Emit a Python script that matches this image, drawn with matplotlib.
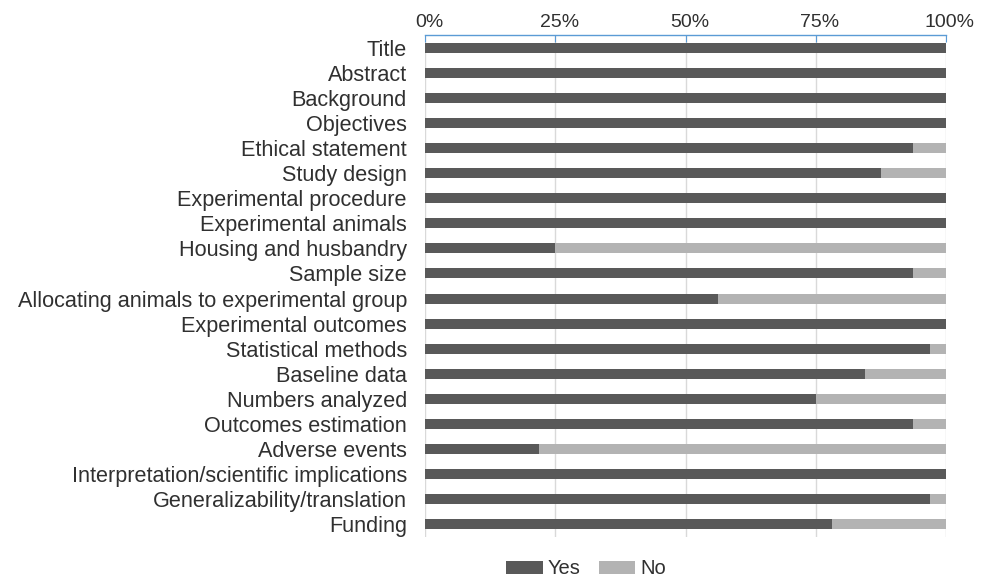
import matplotlib.pyplot as plt
import matplotlib.transforms as mtrans
import numpy as np

plt.rcParams['font.family'] = ['Liberation Sans', 'DejaVu Sans']

# --- data (share of studies, %) ---
items = ["Title", "Abstract", "Background", "Objectives", "Ethical statement",
         "Study design", "Experimental procedure", "Experimental animals",
         "Housing and husbandry", "Sample size",
         "Allocating animals to experimental group", "Experimental outcomes",
         "Statistical methods", "Baseline data", "Numbers analyzed",
         "Outcomes estimation", "Adverse events",
         "Interpretation/scientific implications",
         "Generalizability/translation", "Funding"]
yes_pct = [100, 100, 100, 100, 93.75, 87.5, 100, 100, 25, 93.75,
           56.25, 100, 96.875, 84.375, 75, 93.75, 21.875, 100, 96.875, 78.125]
no_pct = [100 - v for v in yes_pct]
xticks = [0, 25, 50, 75, 100]
xtick_labels = ["0%", "25%", "50%", "75%", "100%"]

# --- plot ---
fig = plt.figure(figsize=(10.02, 5.81), dpi=100)
ax = fig.add_axes([425 / 1002, 1 - 537 / 581, 521 / 1002, 502 / 581])

y = np.arange(len(items))
ax.barh(y, yes_pct, height=0.4, color='#595959', label='Yes', zorder=3)
ax.barh(y, no_pct, left=yes_pct, height=0.4, color='#b3b3b3', label='No', zorder=3)

ax.set_xlim(0, 100)
ax.set_ylim(len(items) - 0.5, -0.5)
ax.set_yticks(y)
ax.set_yticklabels(items, fontsize=15.6, color='#303030')
ax.tick_params(axis='y', length=0, pad=13)

ax.xaxis.tick_top()
ax.set_xticks(xticks)
ax.set_xticklabels(xtick_labels, fontsize=14, color='#303030')
ax.tick_params(axis='x', direction='in', length=5, color='#5b9bd5', pad=3)
# Excel draws the percent labels slightly right of the tick
shift = mtrans.ScaledTranslation(4 / 100, 0, fig.dpi_scale_trans)
for lab in ax.get_xticklabels():
    lab.set_transform(lab.get_transform() + shift)

ax.grid(axis='x', color='#d9d9d9', linewidth=1, zorder=0)
for s in ['left', 'right', 'bottom']:
    ax.spines[s].set_visible(False)
ax.spines['top'].set_color('#5b9bd5')
ax.spines['top'].set_linewidth(1)

fig.legend(loc='center', bbox_to_anchor=(586 / 1002, 1 - 569 / 581), ncol=2,
           frameon=False, fontsize=14.5, handlelength=1.8, handleheight=0.6,
           columnspacing=0.9, handletextpad=0.25, labelcolor='#303030')

plt.savefig('out.png', dpi=100)
